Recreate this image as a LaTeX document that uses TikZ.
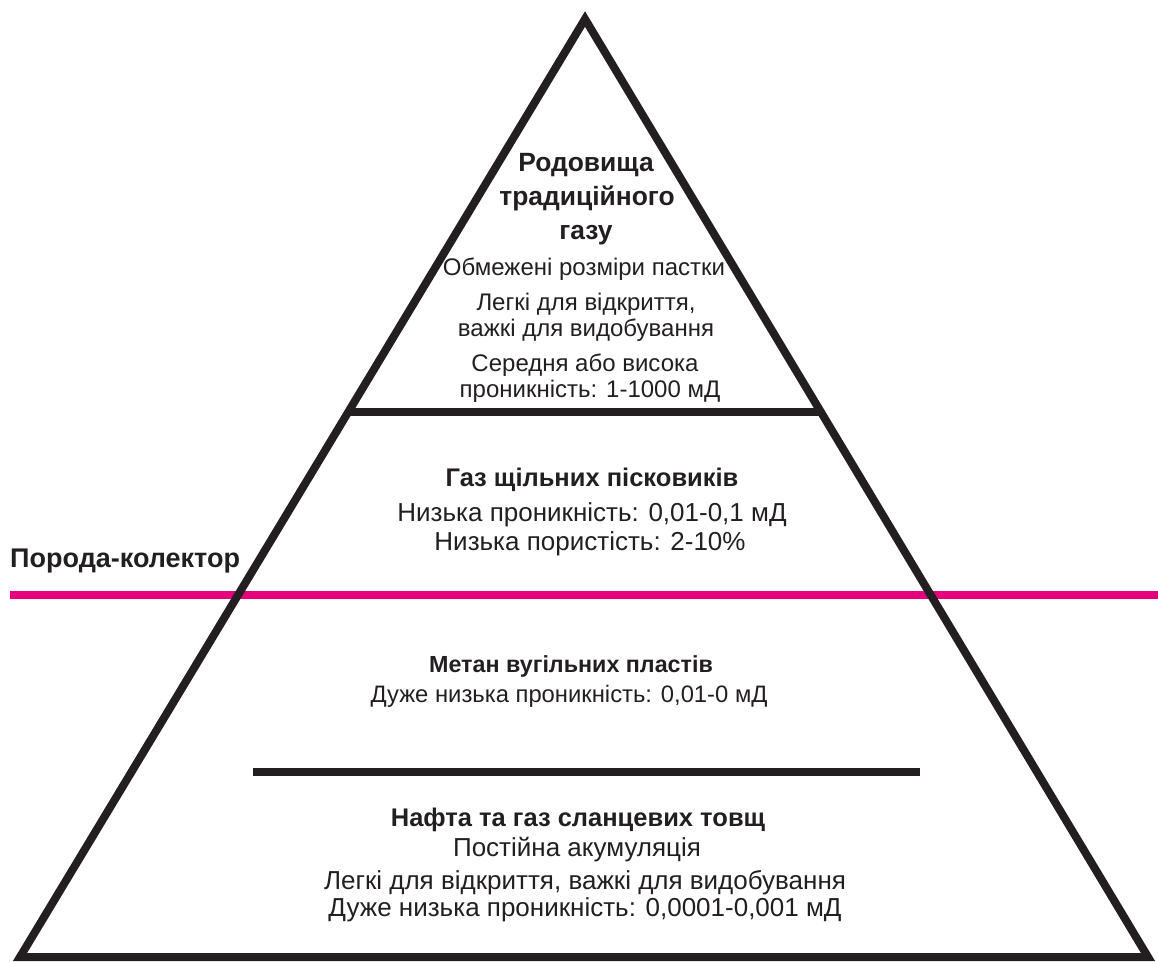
\documentclass[tikz,border=0pt]{standalone}
\usepackage{fontspec}
\setmainfont{Liberation Sans}
\usetikzlibrary{calc}
\definecolor{ink}{HTML}{231F20}
\definecolor{mag}{HTML}{E6007E}
\begin{document}
\begin{tikzpicture}[x=1pt,y=-1pt,
  edge/.style={draw=ink,line width=8pt},
  ttl/.style={anchor=base,inner sep=0pt,text=ink,font=\fontsize{25.5}{30}\selectfont\bfseries},
  txt/.style={anchor=base,inner sep=0pt,text=ink,font=\fontsize{26}{30}\selectfont},
  ttlm/.style={anchor=base,inner sep=0pt,text=ink,font=\fontsize{23.3}{28}\selectfont\bfseries},
  txtm/.style={anchor=base,inner sep=0pt,text=ink,font=\fontsize{23.8}{28}\selectfont},
  ttls/.style={anchor=base,inner sep=0pt,text=ink,font=\fontsize{26.4}{30}\selectfont\bfseries},
  txts/.style={anchor=base,inner sep=0pt,text=ink,font=\fontsize{24}{28}\selectfont}]
\useasboundingbox (0,0) rectangle (1158,961);
\coordinate (apex) at (585,19);
\coordinate (bl) at (20,957);
\coordinate (br) at (1148,957);
\coordinate (m1) at (10,595);
\coordinate (m2) at (1158,595);
\draw[draw=mag,line width=8pt] (m1) -- (m2);
\draw[edge,line join=miter] (apex) -- (br) -- (bl) -- cycle;
\coordinate (h1l) at ($(apex)!0.419!(bl)$);
\coordinate (h1r) at ($(apex)!0.419!(br)$);
\draw[edge] (h1l) -- (h1r);
\coordinate (h2l) at (253,772);
\coordinate (h2r) at (920,772);
\draw[edge] (h2l) -- (h2r);
% top section
\node[ttls] (t1) at (586,171) {Родовища};
\node[ttls] (t2) at (587,205) {традиційного};
\node[ttls] (t3) at (586,239) {газу};
\node[txts] (t4) at (584,275) {Обмежені розміри пастки};
\node[txts] (t5) at (586,310) {Легкі для відкриття,};
\node[txts] (t6) at (586,336) {важкі для видобування};
\node[txts] (t7) at (585,371) {Середня або висока};
\node[txts] (t8) at (590,397) {проникність: 1-1000 мД};
% second section
\node[ttl] (s1) at (592,486) {Газ щільних пісковиків};
\node[txt] (s2) at (592,521) {Низька проникність: 0,01-0,1 мД};
\node[txt] (s3) at (590,550) {Низька пористість: 2-10\%};
% side label
\node[ttl,anchor=base west,font=\fontsize{27}{30}\selectfont\bfseries] (side) at (10,567) {Порода-колектор};
% third section
\node[ttlm] (c1) at (571,672) {Метан вугільних пластів};
\node[txtm] (c2) at (569,702) {Дуже низька проникність: 0,01-0 мД};
% bottom section
\node[ttl] (b1) at (578,826) {Нафта та газ сланцевих товщ};
\node[txt] (b2) at (577,856) {Постійна акумуляція};
\node[txt] (b3) at (585,889) {Легкі для відкриття, важкі для видобування};
\node[txt] (b4) at (585,916) {Дуже низька проникність: 0,0001-0,001 мД};
\end{tikzpicture}
\end{document}
